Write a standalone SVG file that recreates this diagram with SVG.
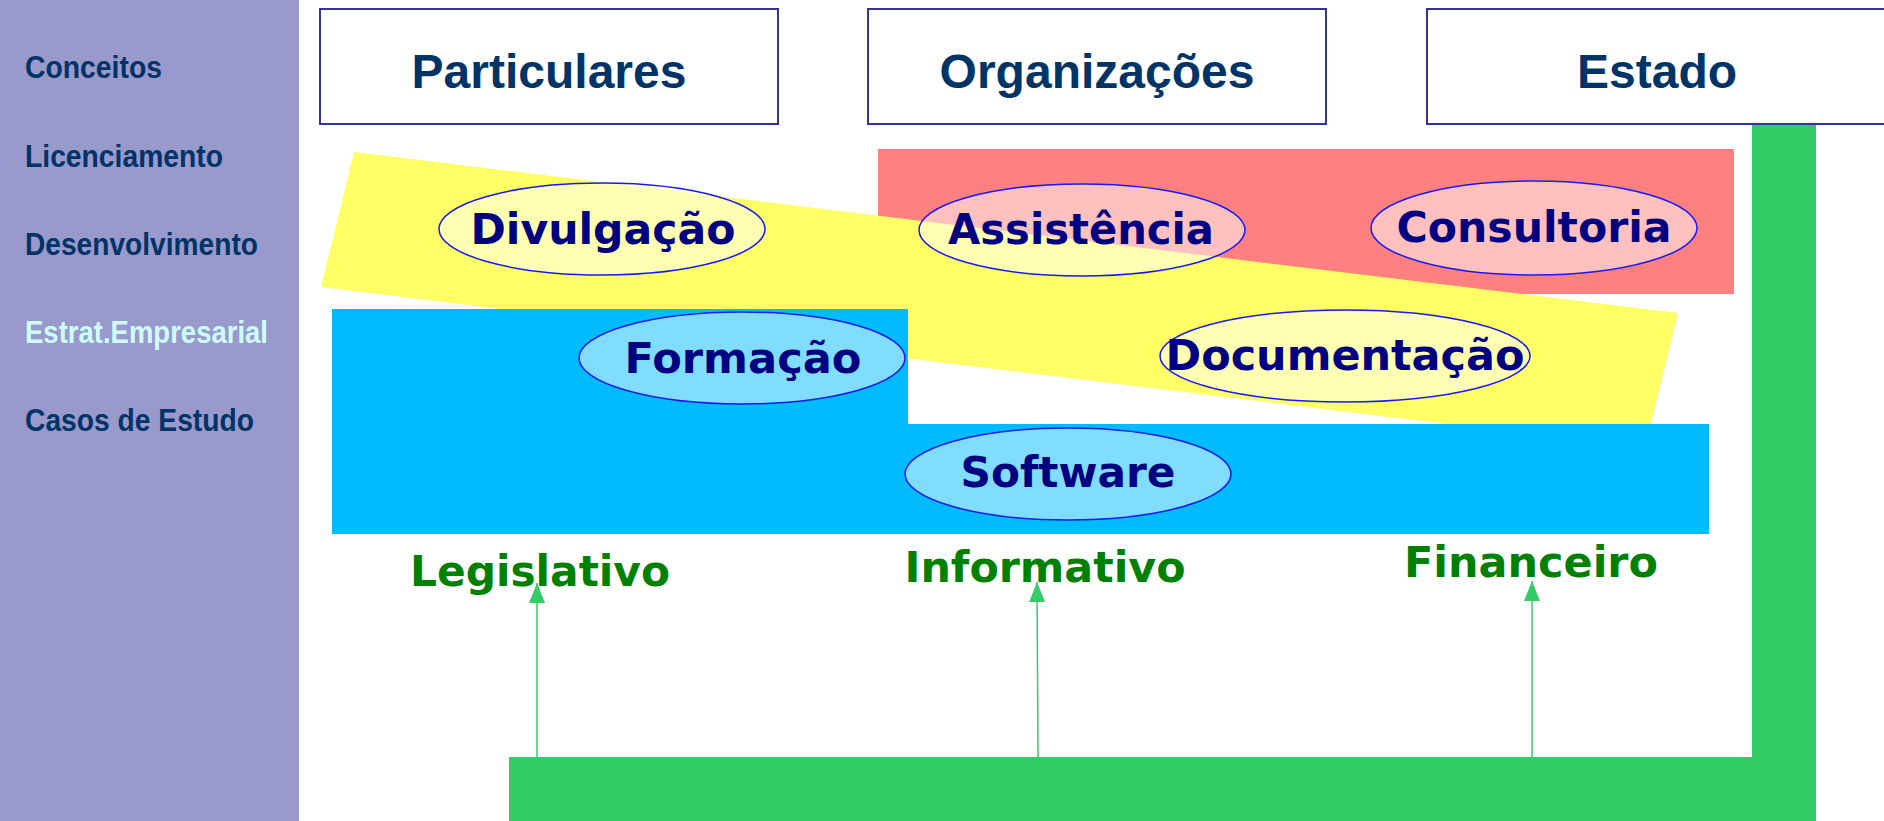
<svg xmlns="http://www.w3.org/2000/svg" width="1884" height="821" viewBox="0 0 1884 821">
<style>
.side{font-family:"Liberation Sans",Arial,sans-serif;font-weight:bold;font-size:32px;fill:#003366}
.side.cur{fill:#ccffff}
.hbox{fill:#ffffff;stroke:#333399;stroke-width:2}
.htxt{font-family:"Liberation Sans",Arial,sans-serif;font-weight:bold;font-size:48px;fill:#003366;text-anchor:middle}
.ell{fill:#ffffff;fill-opacity:0.5;stroke:#1a1aee;stroke-width:1.5}
.etxt{font-family:"DejaVu Sans",Verdana,sans-serif;font-weight:bold;font-size:42px;fill:#000080;text-anchor:middle}
.gtxt{font-family:"DejaVu Sans",Verdana,sans-serif;font-weight:bold;font-size:42px;fill:#008000;text-anchor:middle}
.conn{stroke:#33cc66;stroke-width:1.5;fill:none}
</style>
<defs>
<marker id="ah" markerUnits="userSpaceOnUse" viewBox="0 0 20 16" refX="20" refY="8" markerWidth="20" markerHeight="16" orient="auto">
<path d="M0,0 L20,8 L0,16 z" fill="#33cc66"/>
</marker>
</defs>
<rect x="0" y="0" width="1884" height="821" fill="#ffffff"/>
<g id="sidebar">
<rect x="0" y="0" width="299" height="821" fill="#9999cc"/>
<text class="side" x="25" y="78" textLength="137" lengthAdjust="spacingAndGlyphs">Conceitos</text>
<text class="side" x="25" y="167" textLength="198" lengthAdjust="spacingAndGlyphs">Licenciamento</text>
<text class="side" x="25" y="255" textLength="233" lengthAdjust="spacingAndGlyphs">Desenvolvimento</text>
<text class="side cur" x="25" y="343" textLength="243" lengthAdjust="spacingAndGlyphs">Estrat.Empresarial</text>
<text class="side" x="25" y="431" textLength="229" lengthAdjust="spacingAndGlyphs">Casos de Estudo</text>
</g>
<g id="regions">
<rect id="red-region" x="878" y="149" width="856" height="145" fill="#ff8080"/>
<polygon id="yellow-region" points="354,152 1678,313 1645,448 321,287" fill="#ffff66"/>
<polygon id="blue-region" points="332,309 908,309 908,424 1709,424 1709,534 332,534" fill="#00bbff"/>
<path id="green-frame" d="M1752,124 L1816,124 L1816,821 L509,821 L509,757 L1752,757 z" fill="#33cc66"/>
</g>
<g id="node-particulares">
<rect class="hbox" x="320" y="9" width="458" height="115"/>
<text class="htxt" x="549" y="88">Particulares</text>
</g>
<g id="node-organizacoes">
<rect class="hbox" x="868" y="9" width="458" height="115"/>
<text class="htxt" x="1097" y="88">Organizações</text>
</g>
<g id="node-estado">
<rect class="hbox" x="1427" y="9" width="460" height="115"/>
<text class="htxt" x="1657" y="88">Estado</text>
</g>
<g id="node-divulgacao">
<ellipse class="ell" cx="602" cy="229" rx="163" ry="46"/>
<text class="etxt" x="603" y="244" textLength="265" lengthAdjust="spacingAndGlyphs">Divulgação</text>
</g>
<g id="node-assistencia">
<ellipse class="ell" cx="1082" cy="230" rx="163" ry="46"/>
<text class="etxt" x="1081" y="244" textLength="266" lengthAdjust="spacingAndGlyphs">Assistência</text>
</g>
<g id="node-consultoria">
<ellipse class="ell" cx="1534" cy="228" rx="163" ry="47"/>
<text class="etxt" x="1534" y="242" textLength="275" lengthAdjust="spacingAndGlyphs">Consultoria</text>
</g>
<g id="node-formacao">
<ellipse class="ell" cx="742" cy="358" rx="163" ry="46"/>
<text class="etxt" x="743" y="373" textLength="237" lengthAdjust="spacingAndGlyphs">Formação</text>
</g>
<g id="node-documentacao">
<ellipse class="ell" cx="1345" cy="356" rx="185" ry="46"/>
<text class="etxt" x="1345" y="370" textLength="359" lengthAdjust="spacingAndGlyphs">Documentação</text>
</g>
<g id="node-software">
<ellipse class="ell" cx="1068" cy="474" rx="163" ry="46"/>
<text class="etxt" x="1068" y="487" textLength="215" lengthAdjust="spacingAndGlyphs">Software</text>
</g>
<g id="node-legislativo">
<text class="gtxt" x="540" y="586" textLength="260" lengthAdjust="spacingAndGlyphs">Legislativo</text>
</g>
<g id="node-informativo">
<text class="gtxt" x="1045" y="582" textLength="281" lengthAdjust="spacingAndGlyphs">Informativo</text>
</g>
<g id="node-financeiro">
<text class="gtxt" x="1531" y="577" textLength="254" lengthAdjust="spacingAndGlyphs">Financeiro</text>
</g>
<g id="connectors">
<line class="conn" x1="537" y1="757" x2="537" y2="583" marker-end="url(#ah)"/>
<line class="conn" x1="1038" y1="757" x2="1037" y2="582" marker-end="url(#ah)"/>
<line class="conn" x1="1532" y1="757" x2="1532" y2="581" marker-end="url(#ah)"/>
</g>
</svg>
